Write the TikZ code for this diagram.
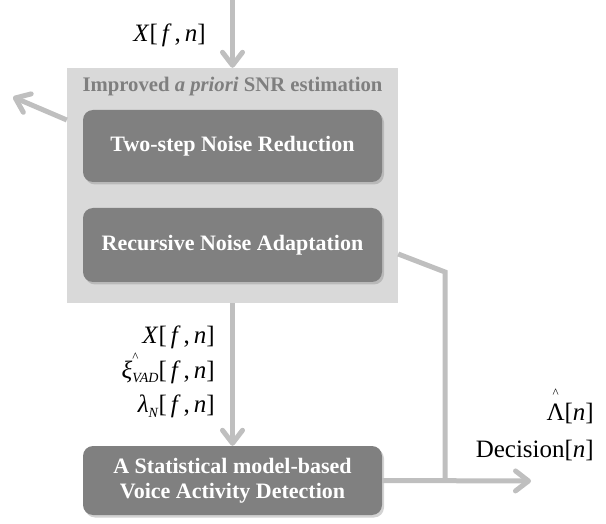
\documentclass[tikz,border=0pt]{standalone}
\usepackage{fontspec}
\setmainfont{Liberation Serif}
\usetikzlibrary{arrows.meta,shadows}
\definecolor{panelgray}{HTML}{D9D9D9}
\definecolor{blockgray}{HTML}{808080}
\definecolor{wiregray}{HTML}{BFBFBF}
\definecolor{titlegray}{HTML}{7F7F7F}

% frequency/frame index, spaced like an equation-editor object
\newcommand{\fn}{[\hspace{4pt}\textit{f}\hspace{3pt},\hspace{4pt}\textit{n}]}
% small circumflex used as an estimate mark
\newcommand{\estmark}{{\fontsize{13}{13}\selectfont\textasciicircum}}

\tikzset{
  panel/.style={fill=panelgray, draw=none, inner sep=0pt,
    minimum width=331pt, minimum height=235pt},
  block/.style={fill=blockgray, rounded corners=10pt, text=white, inner sep=0pt,
    font=\fontsize{22}{25}\selectfont\bfseries, align=center,
    minimum width=299pt,
    drop shadow={shadow xshift=2pt, shadow yshift=-2.5pt, opacity=0.35}},
  wire/.style={draw=wiregray, line width=5pt},
  flow/.style={wire, -{Straight Barb[length=13pt, width=20pt, round]}},
  sig/.style={font=\fontsize{25}{25}\selectfont, inner sep=0pt, anchor=base east},
}

\begin{document}
\begin{tikzpicture}[x=1pt, y=-1pt]
  \useasboundingbox (0,0) rectangle (606,524);

  % estimation panel with its two stages
  \node[panel] (est) at (232.5,185.5) {};
  \node[font=\fontsize{20.7}{21}\selectfont\bfseries, text=titlegray, inner sep=0pt, anchor=base]
    (title) at (232.5,92) {Improved \textit{a priori} SNR estimation};
  \node[block, minimum height=72pt] (nr)  at (232.5,146) {Two-step Noise Reduction};
  \node[block, minimum height=74pt] (rna) at (232.5,245) {Recursive Noise Adaptation};

  % detector block
  \node[block, minimum height=69pt] (vad) at (232.5,480.5)
    {A Statistical model-based\\Voice Activity Detection};

  % free ends of the connectors
  \coordinate (in)   at (232.5,0);
  \coordinate (side) at (13,97);
  \coordinate (bend) at (445,272);
  \coordinate (out)  at (531,481);

  % connectors
  \draw[flow] (in) -- (est.north);
  \draw[flow] (est.west |- 0,120) -- (side);
  \draw[flow] (est.south) -- (vad.north);
  \draw[wire, line join=miter] (est.east |- 0,254) -- (bend) -- (bend |- vad.east);
  \draw[flow] (vad.east) -- (out);

  % signal labels
  \node[sig] (xin) at (206,42) {\textit{X}\fn};
  \node[sig] (xmid) at (215,343) {\textit{X}\fn};
  \node[sig] (xi) at (215,378)
    {\textit{ξ}\rlap{\raisebox{17pt}{\estmark}}\raisebox{-0.4ex}{\fontsize{14}{14}\selectfont\textit{VAD}}\fn};
  \node[sig] (lam) at (215,412)
    {\textit{λ}\raisebox{-0.5ex}{\fontsize{14}{14}\selectfont\textit{N}}\fn};

  \node[sig] (lr) at (594,420)
    {\rlap{\hspace{6pt}\raisebox{23pt}{\estmark}}Λ[\textit{n}]};
  \node[sig] (dec) at (594,457) {Decision[\textit{n}]};
\end{tikzpicture}
\end{document}
